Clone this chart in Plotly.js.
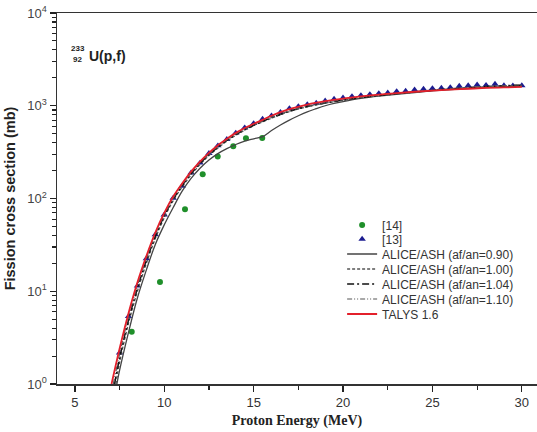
<!DOCTYPE html>
<html><head><meta charset="utf-8">
<script src="https://cdn.plot.ly/plotly-3.0.1.min.js"></script>
<style>html,body{margin:0;padding:0;background:#fff}#c{width:537px;height:432px}</style>
</head><body><div id="c"></div>
<script>
// Experimental data [14]
const ref14E = [8.18, 9.76, 11.16, 12.15, 12.99, 13.86, 14.57, 15.48];
const ref14S = [3.65, 12.6, 76.8, 183, 283, 365, 445, 449];
// Experimental data [13]
const ref13E = [7.5, 8.0, 8.5, 9.0, 9.5, 10.0, 10.5, 11.0, 11.5, 12.0, 12.5, 13.0, 13.5, 14.0, 14.5, 15.0, 15.5, 16.0, 16.5,
  17.0, 17.5, 18.0, 18.5, 19.0, 19.5, 20.0, 20.5, 21.0, 21.5, 22.0, 22.5, 23.0, 23.5, 24.0, 24.5, 25.0, 25.5, 26.0, 26.5,
  27.0, 27.5, 28.0, 28.5, 29.0, 29.5, 30.0];
const ref13S = [2.17, 5.35, 11.4, 22.5, 40.7, 66.8, 101, 136, 189, 242, 307, 371, 434, 509, 580, 645, 719, 781, 850,
  935, 984, 1033, 1069, 1132, 1181, 1219, 1259, 1291, 1324, 1356, 1380, 1425, 1440, 1486, 1511, 1535, 1549, 1574, 1629,
  1653, 1682, 1668, 1711, 1653, 1641, 1653];
// ALICE/ASH af/an=0.90
const a090E = [7.35, 7.5, 8.0, 8.5, 9.0, 9.5, 10.0, 10.5, 11.0, 11.5, 12.0, 12.5, 13.0, 13.5, 14.0, 14.5, 15.0, 15.5, 16.0, 16.5, 17.0, 17.5, 18.0, 18.5, 19.0, 19.5, 20.0, 21.0, 22.0, 24.0, 26.0, 28.0, 30.0];
const a090S = [1.0, 1.4, 3.6, 8.5, 17, 32, 52, 80, 120, 165, 212, 260, 305, 345, 382, 415, 440, 465, 540, 620, 700, 780, 860, 930, 1000, 1060, 1110, 1200, 1270, 1390, 1490, 1570, 1630];
// ALICE/ASH af/an=1.00
const a100E = [7.3, 7.5, 8.0, 8.5, 9.0, 9.5, 10.0, 10.5, 11.0, 11.5, 12.0, 12.5, 13.0, 13.5, 14.0, 14.5, 15.0, 15.5, 16.0, 17.0, 18.0, 19.0, 20.0, 21.0, 22.0, 23.0, 24.0, 25.0, 26.0, 27.0, 28.0, 29.0, 30.0];
const a100S = [1.0, 1.7, 4.5, 10, 20, 37, 62, 95, 133, 180, 232, 290, 350, 415, 480, 545, 610, 670, 735, 865, 975, 1065, 1145, 1215, 1285, 1345, 1405, 1460, 1510, 1560, 1600, 1630, 1660];
// ALICE/ASH af/an=1.04
const a104E = [7.22, 7.5, 8.0, 8.5, 9.0, 9.5, 10.0, 10.5, 11.0, 11.5, 12.0, 12.5, 13.0, 13.5, 14.0, 14.5, 15.0, 15.5, 16.0, 17.0, 18.0, 19.0, 20.0, 21.0, 22.0, 23.0, 24.0, 25.0, 26.0, 27.0, 28.0, 29.0, 30.0];
const a104S = [1.0, 1.9, 4.9, 10.8, 21.5, 39, 65, 98, 137, 185, 238, 296, 357, 422, 487, 552, 617, 677, 742, 872, 982, 1072, 1152, 1225, 1292, 1352, 1412, 1470, 1520, 1570, 1610, 1640, 1670];
// ALICE/ASH af/an=1.10
const a110E = [7.15, 7.5, 8.0, 8.5, 9.0, 9.5, 10.0, 10.5, 11.0, 11.5, 12.0, 12.5, 13.0, 13.5, 14.0, 14.5, 15.0, 15.5, 16.0, 17.0, 18.0, 19.0, 20.0, 21.0, 22.0, 23.0, 24.0, 25.0, 26.0, 27.0, 28.0, 29.0, 30.0];
const a110S = [1.0, 2.1, 5.3, 11.5, 22.5, 41, 67, 101, 141, 190, 244, 302, 364, 430, 495, 560, 625, 686, 750, 880, 990, 1080, 1160, 1232, 1300, 1360, 1420, 1478, 1528, 1578, 1618, 1648, 1678];
// TALYS 1.6
const talE = [7.05, 7.5, 8.0, 8.5, 9.0, 9.5, 10.0, 10.5, 11.0, 11.5, 12.0, 12.5, 13.0, 13.5, 14.0, 14.5, 15.0, 15.5, 16.0, 17.0, 18.0, 19.0, 20.0, 21.0, 22.0, 23.0, 24.0, 25.0, 26.0, 27.0, 28.0, 29.0, 30.0];
const talS = [1.0, 2.4, 5.8, 12.5, 24, 43, 70, 105, 145, 195, 250, 310, 375, 440, 510, 575, 640, 705, 780, 920, 1030, 1120, 1195, 1260, 1320, 1370, 1415, 1455, 1495, 1525, 1555, 1575, 1595];

const yTickVals = [1, 10, 100, 1000, 10000];
const yTickText = ['10<sup>0</sup>', '10<sup>1</sup>', '10<sup>2</sup>', '10<sup>3</sup>', '10<sup>4</sup>'];
// minor log ticks: 2..9 within each decade
const yMinorVals = [];
for (let d = 1; d < 10000; d *= 10) { for (let m = 2; m <= 9; m++) yMinorVals.push(m * d); }

const traces = [
  {x: ref14E, y: ref14S, name: '[14]', type: 'scatter', mode: 'markers', legend: 'legend',
   marker: {symbol: 'circle', size: 6, color: '#1f8f2a'}},
  {x: ref13E, y: ref13S, name: '[13]', type: 'scatter', mode: 'markers', legend: 'legend2',
   marker: {symbol: 'triangle-up', size: 6.5, color: '#1c1c90'}},
  {x: a090E, y: a090S, name: 'ALICE/ASH (af/an=0.90)', type: 'scatter', mode: 'lines', legend: 'legend3',
   line: {shape: 'spline', color: '#444', width: 1.3}},
  {x: a100E, y: a100S, name: 'ALICE/ASH (af/an=1.00)', type: 'scatter', mode: 'lines', legend: 'legend4',
   line: {shape: 'spline', color: '#555', width: 1.3, dash: '3px,2px'}},
  {x: a104E, y: a104S, name: 'ALICE/ASH (af/an=1.04)', type: 'scatter', mode: 'lines', legend: 'legend5',
   line: {shape: 'spline', color: '#111', width: 1.5, dash: '7px,3px,2px,3px'}},
  {x: a110E, y: a110S, name: 'ALICE/ASH (af/an=1.10)', type: 'scatter', mode: 'lines', legend: 'legend6',
   line: {shape: 'spline', color: '#555', width: 1.2, dash: '5px,2px,1px,2px,1px,2px'}},
  {x: talE, y: talS, name: 'TALYS 1.6', type: 'scatter', mode: 'lines', legend: 'legend7',
   line: {shape: 'spline', color: '#e3202b', width: 1.8}},
  // carrier for the minor-tick axis (draws nothing)
  {x: [null], y: [null], yaxis: 'y2', type: 'scatter', mode: 'markers', showlegend: false, hoverinfo: 'skip'}
];

// legend row centres (pixels from top) -> paper coords
const legendRowsPx = [225, 239, 254, 269, 284, 299, 314];
const plotTop = 13, plotBottom = 384;

const layout = {
  width: 537, height: 432,
  margin: {l: 57, r: 0, t: 13, b: 48},
  paper_bgcolor: '#fff', plot_bgcolor: '#fff',
  font: {family: 'Liberation Sans, Arial, sans-serif', color: '#333', size: 12},
  showlegend: true,
  xaxis: {
    range: [4, 30.85], showgrid: false, zeroline: false,
    showline: true, linecolor: '#333', linewidth: 1.5, mirror: true,
    ticks: 'outside', ticklen: 6, tickcolor: '#222', tickwidth: 1.3,
    tickmode: 'linear', tick0: 5, dtick: 5,
    minor: {ticks: 'outside', ticklen: 4, tickcolor: '#222', tickwidth: 1.1, dtick: 2.5, tick0: 5, showgrid: false},
    tickfont: {size: 13, color: '#333'},
    title: {text: 'Proton Energy (MeV)', standoff: 6,
            font: {family: 'Liberation Serif, Times New Roman, serif', size: 14, color: '#222', weight: 'bold'}}
  },
  yaxis: {
    type: 'log', range: [0, 4], showgrid: false, zeroline: false,
    showline: true, linecolor: '#333', linewidth: 1.5, mirror: false,
    ticks: 'outside', ticklen: 6, tickcolor: '#222', tickwidth: 1.3,
    tickmode: 'array', tickvals: yTickVals, ticktext: yTickText,
    tickfont: {size: 13, color: '#444'},
    title: {text: 'Fission cross section (mb)', standoff: 8,
            font: {family: 'Liberation Sans, Arial, sans-serif', size: 14.5, color: '#222', weight: 'bold'}}
  },
  yaxis2: {
    type: 'log', range: [0, 4], overlaying: 'y', side: 'left', anchor: 'x',
    showgrid: false, zeroline: false, showline: false, showticklabels: false,
    ticks: 'outside', ticklen: 4, tickcolor: '#222', tickwidth: 1.1,
    tickmode: 'array', tickvals: yMinorVals
  },
  annotations: [
    {xref: 'paper', yref: 'paper', x: 0.0625, y: 0.922, xanchor: 'right', text: '233', showarrow: false,
     font: {size: 8, color: '#222', weight: 'bold'}},
    {xref: 'paper', yref: 'paper', x: 0.057, y: 0.892, xanchor: 'right', text: '92', showarrow: false,
     font: {size: 8, color: '#222', weight: 'bold'}},
    {xref: 'paper', yref: 'paper', x: 0.0625, y: 0.912, xanchor: 'left', text: 'U(p,f)', showarrow: false,
     font: {size: 14, color: '#222', weight: 'bold'}}
  ]
};
legendRowsPx.forEach(function (py, i) {
  const key = i === 0 ? 'legend' : 'legend' + (i + 1);
  layout[key] = {x: 0.594, y: (plotBottom - py) / (plotBottom - plotTop), xanchor: 'left', yanchor: 'middle',
                 bgcolor: 'rgba(0,0,0,0)', borderwidth: 0, font: {size: 12, color: '#333'}};
});

Plotly.newPlot('c', traces, layout, {displayModeBar: false, staticPlot: true});
</script>
</body></html>
